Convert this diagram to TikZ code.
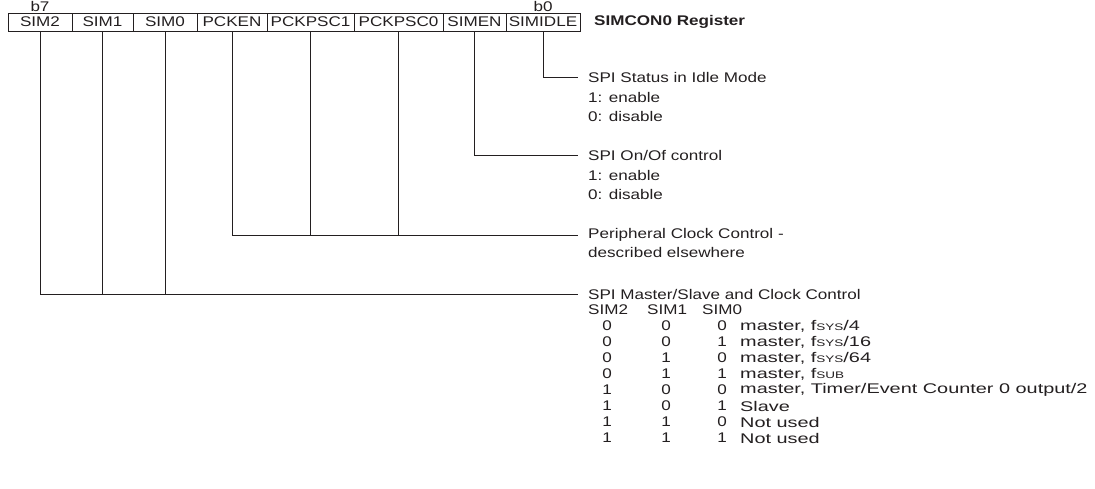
\documentclass[tikz,border=0pt]{standalone}
\usepackage{fontspec}
\setmainfont{Liberation Sans}[FakeStretch=1.22]
\newfontfamily\modefont{Liberation Sans}[FakeStretch=1.42]
\usetikzlibrary{positioning}
\definecolor{ink}{RGB}{35,31,32}
\newcommand\regfont{\fontsize{14}{16}\selectfont}
\newcommand\fclk[1]{f\raisebox{-0.8pt}{\fontsize{9.5}{9.5}\selectfont #1}}
\tikzset{
  cell/.style={draw=ink, line width=1pt, minimum height=18pt, inner sep=0pt,
    outer sep=0pt, font=\regfont, text=ink},
  txt/.style={font=\regfont, text=ink, inner sep=0pt},
  lbl/.style={txt, anchor=west, inner xsep=10pt},
  note/.style={txt, anchor=north west, align=left, font=\fontsize{14}{19}\selectfont},
  wire/.style={draw=ink, line width=1pt}
}

\begin{document}
\begin{tikzpicture}[x=1pt, y=-1pt]
\useasboundingbox (0,0) rectangle (1095,488);

% register bits
\node[cell, minimum width=64pt] (sim2) at (40,22) {SIM2};
\node[cell, minimum width=61pt, right=0pt of sim2] (sim1) {SIM1};
\node[cell, minimum width=64pt, right=0pt of sim1] (sim0) {SIM0};
\node[cell, minimum width=70pt, right=0pt of sim0] (pcken) {PCKEN};
\node[cell, minimum width=87pt, right=0pt of pcken] (pckpsc1) {PCKPSC1};
\node[cell, minimum width=89pt, right=0pt of pckpsc1] (pckpsc0) {PCKPSC0};
\node[cell, minimum width=63pt, right=0pt of pckpsc0] (simen) {SIMEN};
\node[cell, minimum width=74pt, right=0pt of simen] (simidle) {SIMIDLE};

\node[txt, above=1.5pt of sim2] (b7) {b7};
\node[txt, above=1.5pt of simidle] (b0) {b0};
\node[txt, font=\regfont\bfseries, right=14pt of simidle] (reg) {SIMCON0 Register};

% descriptions
\node[lbl] (idle) at (578,77) {SPI Status in Idle Mode};
\node[note] (idlev) at (588,92.5) {1: enable\\0: disable};
\node[lbl] (onoff) at (578,155) {SPI On/Of control};
\node[note] (onoffv) at (588,170.5) {1: enable\\0: disable};
\node[lbl] (pclk) at (578,235) {Peripheral Clock Control -};
\node[note] (pclkv) at (588,247.5) {described elsewhere};
\node[lbl] (mstr) at (578,294) {SPI Master/Slave and Clock Control};

% wires
\draw[wire] (simidle.south) |- (idle.west);
\draw[wire] (simen.south) |- (onoff.west);
\draw[wire] (pcken.south) |- (pclk.west);
\draw[wire] (pckpsc1.south) -- (pckpsc1.south |- pclk.west);
\draw[wire] (pckpsc0.south) -- (pckpsc0.south |- pclk.west);
\draw[wire] (sim2.south) |- (mstr.west);
\draw[wire] (sim1.south) -- (sim1.south |- mstr.west);
\draw[wire] (sim0.south) -- (sim0.south |- mstr.west);

% mode table
\node[txt, anchor=west] (hsim2) at (588,310) {SIM2};
\node[txt, anchor=west] (hsim1) at (647,310) {SIM1};
\node[txt, anchor=west] (hsim0) at (702,310) {SIM0};
\foreach \a/\b/\c/\d [count=\i] in {
  0/0/0/{master, \fclk{SYS}/4},
  0/0/1/{master, \fclk{SYS}/16},
  0/1/0/{master, \fclk{SYS}/64},
  0/1/1/{master, \fclk{SUB}},
  1/0/0/{master, Timer/Event Counter 0 output/2},
  1/0/1/{Slave},
  1/1/0/{Not used},
  1/1/1/{Not used}}{
  \pgfmathsetmacro\yy{310+16*\i}
  \node[txt] (va\i) at (607,\yy) {\a};
  \node[txt] (vb\i) at (666,\yy) {\b};
  \node[txt] (vc\i) at (722,\yy) {\c};
  \node[txt, anchor=west, font=\regfont\modefont] (mode\i) at (740,\yy) {\d};
}
\end{tikzpicture}
\end{document}
